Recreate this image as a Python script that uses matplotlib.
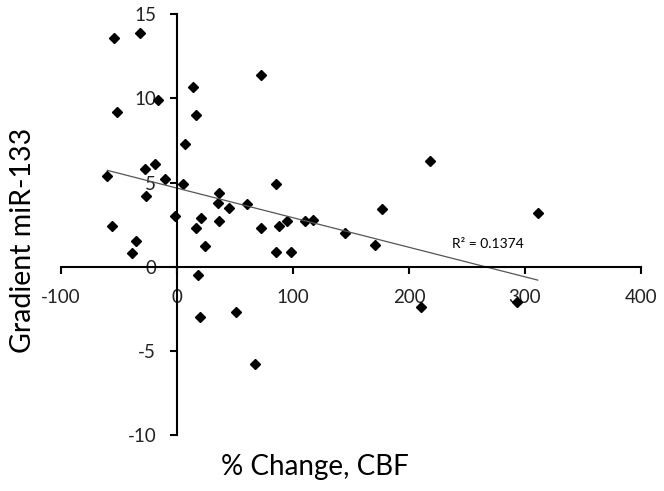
import numpy as np
import matplotlib
matplotlib.use("Agg")
import matplotlib.pyplot as plt

# % change in CBF vs gradient miR-133
pct_change = [-54, -32, -52, -16, 14, 16, 72, 7, -60, -28, -19, -10, 5, -27,
              36, 35, 45, 60, 85, -2, 21, 36, 16, -56, 72, 88, 95, 110, 117,
              -35, 24, -39, 85, 98, 18, 20, 51, 67, 218, 177, 311, 145, 171,
              210, 293]
gradient = [13.6, 13.9, 9.2, 9.9, 10.7, 9.0, 11.4, 7.3, 5.4, 5.8, 6.1, 5.2,
            4.9, 4.2, 4.4, 3.8, 3.5, 3.7, 4.9, 3.0, 2.9, 2.7, 2.3, 2.4, 2.3,
            2.4, 2.7, 2.7, 2.8, 1.5, 1.25, 0.8, 0.9, 0.9, -0.5, -3.0, -2.7,
            -5.8, 6.3, 3.4, 3.2, 2.0, 1.3, -2.4, -2.1]
r2_label = "R² = 0.1374"

plt.rcParams["font.family"] = ["Lato", "DejaVu Sans"]
plt.rcParams["axes.unicode_minus"] = False

fig = plt.figure(figsize=(6.64, 4.91), dpi=100)
ax = fig.add_axes([0.0919, 0.1141, 0.8735, 0.8568])

ax.plot(pct_change, gradient, linestyle="none", marker="D", markersize=5.3,
        color="black")

# linear trendline over the data range
slope, intercept = np.polyfit(pct_change, gradient, 1)
xs = np.array([min(pct_change), max(pct_change)])
ax.plot(xs, slope * xs + intercept, color="#555555", linewidth=0.9)
ax.text(268, 1.35, r2_label, ha="center", va="center", fontsize=10)

ax.set_xlim(-100, 400)
ax.set_ylim(-10, 15)
ax.set_xticks([-100, 0, 100, 200, 300, 400])
ax.set_yticks([-10, -5, 0, 5, 10, 15])

ax.spines["left"].set_position(("data", 0))
ax.spines["bottom"].set_position(("data", 0))
ax.spines["top"].set_visible(False)
ax.spines["right"].set_visible(False)
for s in ("left", "bottom"):
    ax.spines[s].set_linewidth(1.5)
ax.tick_params(direction="out", length=5, width=1.5, labelsize=13.5,
               colors="black", pad=10)
ax.tick_params(axis="x", pad=11)
for lbl in ax.get_xticklabels() + ax.get_yticklabels():
    lbl.set_color("#222222")

fig.text(0.474, 0.049, "% Change, CBF", ha="center", va="center", fontsize=20)
fig.text(0.034, 0.511, "Gradient miR-133", ha="center", va="center",
         rotation=90, fontsize=20.5)

fig.savefig("out.png", dpi=100)
